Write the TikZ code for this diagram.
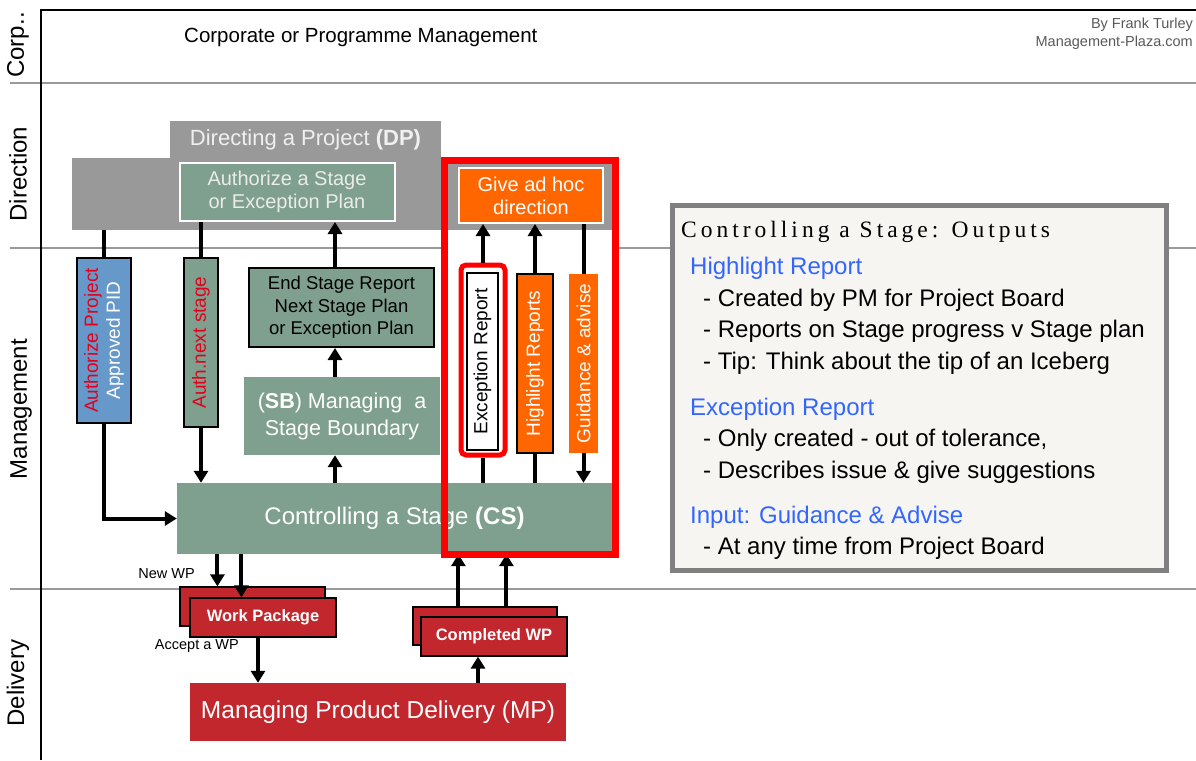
\documentclass[tikz,border=0pt]{standalone}
\usepackage{fontspec}
\setmainfont{Liberation Sans}
\newfontfamily\titlefont[LetterSpace=17]{Liberation Serif}
\usetikzlibrary{arrows.meta,positioning}
\definecolor{dpgray}{HTML}{999999}
\definecolor{csgreen}{HTML}{7FA08E}
\definecolor{pidblue}{HTML}{6699C9}
\definecolor{adhocorange}{HTML}{FF6600}
\definecolor{wpred}{HTML}{C1272D}
\definecolor{hlblue}{HTML}{3366FF}
\definecolor{txtred}{HTML}{E3001B}
\definecolor{boxfill}{HTML}{F6F5F1}
\definecolor{boxgray}{HTML}{808080}

\begin{document}
\begin{tikzpicture}[x=1pt,y=-1pt,
  every node/.style={inner sep=0pt, align=center},
  lane/.style={draw=dpgray, line width=2pt},
  lanelabel/.style={rotate=90, font=\fontsize{24}{28}\selectfont},
  stem/.style={line width=4pt},
  arr/.style={stem, -{Triangle[length=12pt,width=14pt]}},
  greenbox/.style={fill=csgreen, text=white},
  vbox/.style={rotate=90, font=\fontsize{19}{22}\selectfont},
  wpbox/.style={fill=wpred, draw=black, line width=1.2pt, text=white, font=\bfseries\fontsize{16.5}{19}\selectfont}]

\useasboundingbox (0,0) rectangle (1196,760);

% swim lanes
\draw[lane] (10,83) -- (1196,83);
\draw[lane] (10,248) -- (1196,248);
\draw[lane] (10,589) -- (1196,589);
\draw[line width=2.5pt] (41,760) -- (41,10) -- (1196,10);

\node[lanelabel] (corp) at (18,45) {Corp..};
\node[lanelabel] (direction) at (18,174) {Direction};
\node[lanelabel] (management) at (21,409) {Management};
\node[lanelabel] (delivery) at (18,683) {Delivery};

\node[anchor=west, font=\fontsize{20.5}{24}\selectfont] (corporate) at (184,37) {Corporate or Programme Management};
\node[anchor=north east, align=right, text=black!65, font=\fontsize{14.5}{18}\selectfont] (author) at (1193,18) {By Frank Turley\\Management-Plaza.com};

\node[fill=white, minimum width=170pt, minimum height=393pt] (focus) at (530,357.5) {};

% direction
\node[fill=dpgray, minimum width=543pt, minimum height=72pt] (dpbody) at (343.5,194) {};
\node[fill=dpgray, minimum width=271pt, minimum height=39pt, text=white!94!black, font=\fontsize{22}{26}\selectfont] (dp) at (305.5,140) {Directing a Project \textbf{(DP)}};
\node[greenbox, draw=white, line width=2pt, minimum width=215pt, minimum height=58pt, text=white!92!black, font=\fontsize{20}{23}\selectfont] (auth) at (287,192) {Authorize a Stage\\or Exception Plan};
\node[fill=adhocorange, draw=white, line width=2pt, minimum width=144pt, minimum height=55pt, text=white, font=\fontsize{20}{23}\selectfont] (adhoc) at (531,195.5) {Give ad hoc\\direction};

% management
\node[vbox, fill=pidblue, draw=black, line width=1.5pt, minimum width=165pt, minimum height=54pt] (pid) at (104,340.5) {\textcolor{txtred}{Authorize Project}\\\textcolor{white}{Approved PID}};
\node[vbox, greenbox, draw=black, line width=1.5pt, minimum width=169pt, minimum height=34pt, text=txtred] (next) at (201,342.5) {Auth.next stage};
\node[greenbox, draw=black, line width=2pt, minimum width=185pt, minimum height=79pt, text=black, font=\fontsize{18.5}{22.5}\selectfont] (esr) at (341.5,307.5) {End Stage Report\\Next Stage Plan\\or Exception Plan};
\node[greenbox, minimum width=196pt, minimum height=78pt, font=\fontsize{21.5}{27}\selectfont] (sb) at (342,416) {(\textbf{SB}) Managing\ \ a\\Stage Boundary};
\node[greenbox, minimum width=435pt, minimum height=71pt, font=\fontsize{24}{28}\selectfont] (cs) at (394.5,518.5) {Controlling a Stage \textbf{(CS)}};

\node[draw=red, line width=5pt, rounded corners=5pt, fill=white, minimum width=44pt, minimum height=190pt] (erf) at (483,360) {};
\node[vbox, fill=white, draw=black, line width=1.5pt, minimum width=177pt, minimum height=31pt] (er) at (482.5,361.5) {Exception Report};
\node[vbox, fill=adhocorange, draw=black, line width=1.5pt, minimum width=179pt, minimum height=36pt, text=white] (hr) at (535,363.5) {Highlight Reports};
\node[vbox, fill=adhocorange, minimum width=179pt, minimum height=29pt, text=white] (ga) at (583.5,363.5) {Guidance \& advise};

% delivery
\node[wpbox, minimum width=145pt, minimum height=39pt] (wpb) at (252.5,606.5) {};
\node[wpbox, minimum width=146pt, minimum height=39pt] (wp) at (263,617.5) {Work Package};
\node[wpbox, minimum width=144pt, minimum height=38pt] (cwpb) at (485,626) {};
\node[wpbox, minimum width=146pt, minimum height=39pt] (cwp) at (494,636.5) {Completed WP};
\node[fill=wpred, text=white, minimum width=376pt, minimum height=58pt, font=\fontsize{24.5}{28}\selectfont] (mp) at (378,712) {Managing Product Delivery (MP)};

\node[anchor=east, font=\fontsize{14.5}{16}\selectfont] (newwp) at (195,574) {New WP};
\node[anchor=east, font=\fontsize{14.5}{16}\selectfont] (accept) at (239,646) {Accept a WP};

% flows
\draw[stem] (pid.east |- dpbody.south) -- (pid.east);
\draw[arr] (pid.west) |- (cs.west);
\draw[stem] (next.east |- auth.south) -- (next.east);
\draw[arr] (next.west) -- (next.west |- cs.north);
\draw[arr] ([xshift=-7pt]sb.south |- cs.north) -- ([xshift=-7pt]sb.south);
\draw[arr] ([xshift=-7pt]sb.north) -- ([xshift=-7pt]sb.north |- esr.south);
\draw[arr] ([xshift=-7pt]sb.north |- esr.north) -- ([xshift=-7pt]sb.north |- auth.south);

\draw[stem] (erf.south |- cs.north) -- (erf.south);
\draw[arr] (erf.north) -- (erf.north |- adhoc.south);
\draw[stem] (hr.west |- cs.north) -- (hr.west);
\draw[arr] (hr.east) -- (hr.east |- adhoc.south);
\draw[stem] (ga.east |- adhoc.south) -- (ga.east);
\draw[arr] (ga.west) -- (ga.west |- cs.north);

\draw[arr] ([xshift=38pt]wpb.north west |- cs.south) -- ([xshift=38pt]wpb.north west);
\draw[arr] ([xshift=52pt]wp.north west |- cs.south) -- ([xshift=52pt]wp.north west);
\draw[arr] ([xshift=-5pt]wp.south) -- ([xshift=-5pt]wp.south |- mp.north);
\draw[arr] ([xshift=-16pt]cwp.south |- mp.north) -- ([xshift=-16pt]cwp.south);
\draw[arr] ([xshift=46pt]cwpb.north west) -- ([xshift=46pt]cwpb.north west |- cs.south);
\draw[arr] ([xshift=94pt]cwpb.north west) -- ([xshift=94pt]cwpb.north west |- cs.south);

\draw[red, line width=7pt] (focus.north west) rectangle (focus.south east);

% outputs
\node[draw=boxgray, line width=5pt, fill=boxfill, minimum width=494pt, minimum height=365pt] (outputs) at (919,387.5) {};
\node[anchor=west, font=\titlefont\fontsize{23.5}{27}\selectfont] (outtitle) at (681,232) {Controlling a Stage: Outputs};
\node[anchor=north west, align=left, font=\fontsize{24}{31.5}\selectfont] (outtext) at (690,257) {\textcolor{hlblue}{Highlight Report}\\
\hspace*{13pt}- Created by PM for Project Board\\
\hspace*{13pt}- Reports on Stage progress v Stage plan\\
\hspace*{13pt}- Tip: Think about the tip of an Iceberg\\[14.5pt]
\textcolor{hlblue}{Exception Report}\\
\hspace*{13pt}- Only created - out of tolerance,\\
\hspace*{13pt}- Describes issue \& give suggestions\\[13.5pt]
\textcolor{hlblue}{Input: Guidance \& Advise}\\
\hspace*{13pt}- At any time from Project Board};
\end{tikzpicture}
\end{document}
